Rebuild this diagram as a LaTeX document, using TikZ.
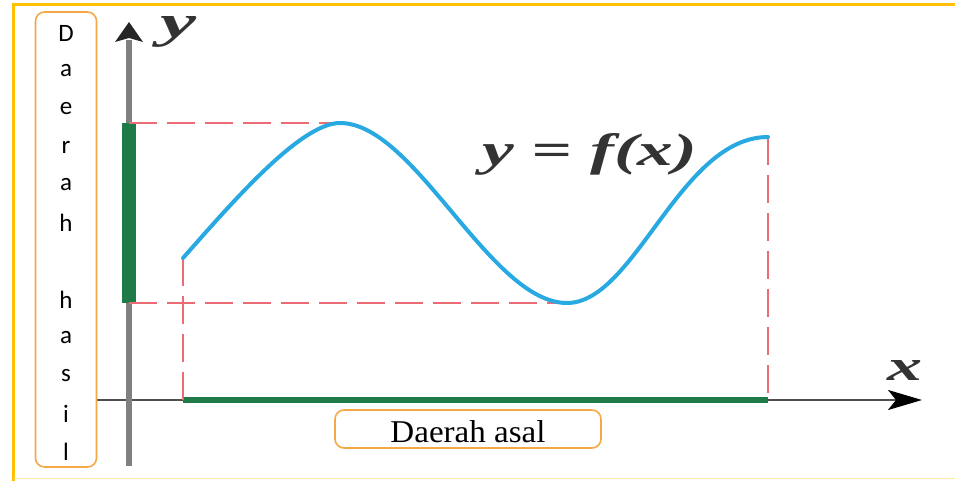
\documentclass[tikz,border=0pt]{standalone}
\usepackage{fontspec}
\setmainfont{Liberation Serif}
\newfontfamily\carlito{Carlito}
\usetikzlibrary{arrows.meta}
\definecolor{frameyellow}{RGB}{255,192,0}
\definecolor{boxorange}{RGB}{245,168,70}
\definecolor{curveblue}{RGB}{41,169,225}
\definecolor{dashred}{RGB}{236,108,118}
\definecolor{bargreen}{RGB}{30,122,70}
\definecolor{axisgray}{RGB}{128,128,128}
\definecolor{axisdark}{RGB}{80,80,80}
\tikzset{
  labelbox/.style={draw=boxorange, fill=white, line width=1.6pt, rounded corners=9pt, inner sep=0pt},
  guide/.style={draw=dashred, line width=2.5pt, dash pattern=on 28pt off 10pt},
  rangebar/.style={draw=bargreen},
  graph/.style={draw=curveblue, line width=4pt, line cap=round},
  axlabel/.style={inner sep=0pt, text=black!80, font=\bfseries\itshape}
}
\begin{document}
\begin{tikzpicture}[x=1pt,y=-1pt]
\useasboundingbox (0,0) rectangle (955,481);
% frame
\draw[frameyellow, line width=3pt] (13.5,481) -- (13.5,4.5) -- (955,4.5);
\draw[frameyellow!35, line width=1pt] (13.5,478) -- (955,478);
% key coordinates
\coordinate (O) at (129,400);
\coordinate (ytop) at (129,22);
\coordinate (ybot) at (129,466);
\coordinate (xleft) at (35,400);
\coordinate (xright) at (922,400);
\coordinate (A) at (183,258);
\coordinate (M) at (340,123);
\coordinate (N) at (567,303);
\coordinate (B) at (768,137);
\coordinate (Ax) at (183,400);
\coordinate (Bx) at (768,400);
\coordinate (My) at (129,123);
\coordinate (Ny) at (129,303);
% axes
\draw[axisdark, line width=2pt, -{Stealth[length=34pt, width=20pt, inset=8pt, black]}] (xleft) -- (xright);
\draw[axisgray, line width=6pt] (ybot) -- (129,40);
\fill[black!85] (ytop) -- (115,42) -- (129,38) -- (143,42) -- cycle;
% ranges
\draw[rangebar, line width=14pt] (My) -- (Ny);
\draw[rangebar, line width=6pt] (Ax) -- (Bx);
% guides
\draw[guide] (My) -- (M);
\draw[guide] (Ny) -- (N);
\draw[guide] (A) -- (Ax);
\draw[guide] (B) -- (Bx);
% curve
\draw[graph] (A) .. controls (230,205) and (300,123) .. (M)
  .. controls (415,123) and (490,303) .. (N)
  .. controls (635,303) and (680,137) .. (B);
% labels
\node[axlabel, anchor=base west] (fx) at (482,165) {\resizebox{215pt}{32pt}{y = f(x)}};
\node[axlabel, anchor=base west] (ylab) at (160,38) {\resizebox{36pt}{21pt}{y}};
\node[axlabel, anchor=base west] (xlab) at (887,380) {\resizebox{35pt}{20pt}{x}};
% Daerah hasil box
\node[labelbox, minimum width=61pt, minimum height=455pt] (hasil) at (66,239.5) {};
\foreach \ch/\yy in {D/33, a/71, e/109, r/147, a/185, h/223, h/300, a/338, s/376, i/414, l/452}
  \node[inner sep=0pt, font=\carlito\fontsize{25}{25}\selectfont] at (66,\yy) {\ch};
% Daerah asal box
\node[labelbox, minimum width=266pt, minimum height=38pt] (asal) at (468,429) {};
\node[inner sep=0pt, anchor=base] (asaltext) at (468,442) {\resizebox{155pt}{22pt}{Daerah asal}};
\end{tikzpicture}
\end{document}
